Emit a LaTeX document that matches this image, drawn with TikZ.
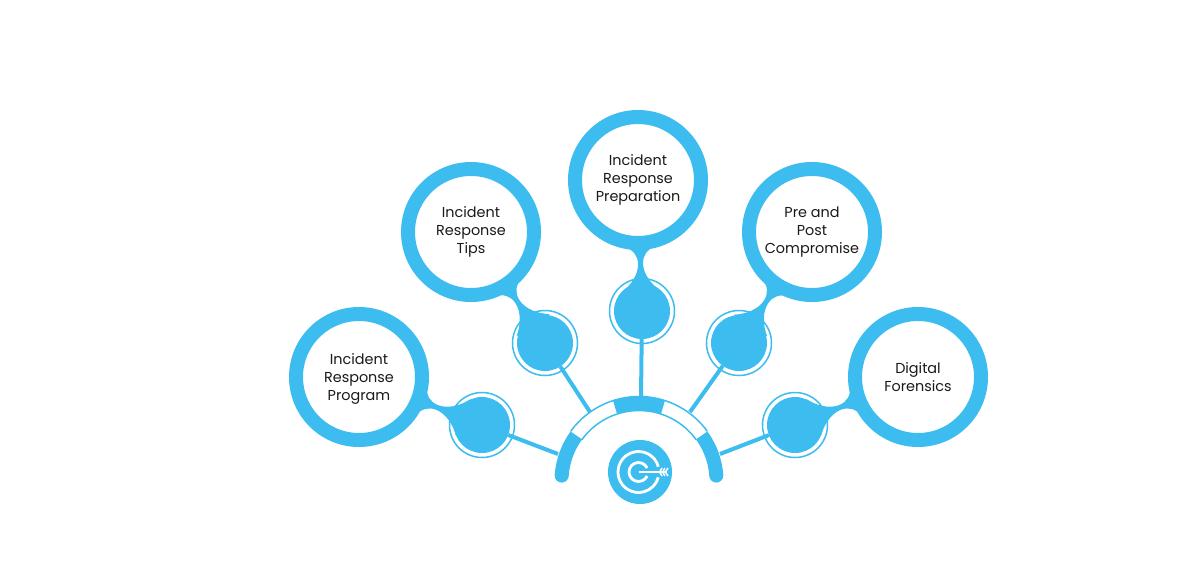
\documentclass[tikz,border=0pt]{standalone}
\usepackage{fontspec}
\setmainfont{Poppins}
\definecolor{sky}{HTML}{3DBDEF}
\definecolor{ink}{HTML}{1A1A1A}
\tikzset{
  bigring/.style={circle,draw=sky,fill=white,line width=14pt,minimum size=126pt,inner sep=0pt,outer sep=0pt,
    align=center,text=ink,font=\fontsize{14.4}{18}\selectfont},
  dotnode/.style={circle,fill=sky,minimum size=56pt,inner sep=0pt,outer sep=0pt},
  halo/.style={circle,draw=sky,fill=white,line width=1.5pt,minimum size=65pt,inner sep=0pt,outer sep=0pt},
  spoke/.style={draw=sky,line width=4pt},
  neckfill/.style={fill=sky},
  band/.style={draw=sky,line width=14pt},
  thinband/.style={draw=sky,line width=1.5pt},
  hub/.style={circle,fill=sky,minimum size=64pt,inner sep=0pt,outer sep=0pt},
  iconline/.style={draw=white,line width=2.8pt}
}
\newcommand{\neckshape}[2]{%
  \begin{scope}[shift={(#1)},rotate=#2]
    \fill[neckfill] (66,-16) .. controls (70,-7) and (75,-2.5) .. (84,-2.5)
      .. controls (94,-2.5) and (105,-10) .. (112,-20)
      -- (112,20)
      .. controls (105,10) and (94,2.5) .. (84,2.5)
      .. controls (75,2.5) and (70,7) .. (66,16) -- cycle;
  \end{scope}}
\begin{document}
\begin{tikzpicture}[x=1pt,y=-1pt]
\useasboundingbox (0,0) rectangle (1200,563);
\fill[white] (0,0) rectangle (1200,563);
% arc coordinates
\coordinate (hubc) at (639,481);
\coordinate (aL) at (558,454);
\coordinate (aUL) at (590,412);
\coordinate (aC) at (641,398);
\coordinate (aUR) at (690,412);
\coordinate (aR) at (720,454);
\coordinate (ic) at (638.5,472);
% thin edges of the band
\draw[thinband] (hubc) ++(-144:70.5) arc[start angle=-144,end angle=-36,radius=70.5];
\draw[thinband] (hubc) ++(-144:84.5) arc[start angle=-144,end angle=-36,radius=84.5];
% outer halo rings
\node[halo] (hL) at (482,425) {};
\node[halo] (hUL) at (545,343) {};
\node[halo] (hC) at (642,311) {};
\node[halo] (hUR) at (739,343) {};
\node[halo] (hR) at (795,425) {};
% necks
\neckshape{359,377}{-21.3}
\neckshape{471,232}{-56.3}
\neckshape{638,180}{-88.25}
\neckshape{812,232}{-123.3}
\neckshape{918,377}{-158.7}
% dots
\node[dotnode] (dL) at (482,425) {};
\node[dotnode] (dUL) at (545,343) {};
\node[dotnode] (dC) at (642,311) {};
\node[dotnode] (dUR) at (739,343) {};
\node[dotnode] (dR) at (795,425) {};
% big circles
\node[bigring] (bL) at (359,377) {\rule{0pt}{15.5pt}Incident\\Response\\Program};
\node[bigring] (bUL) at (471,232) {Incident\\Response\\Tips};
\node[bigring] (bC) at (638,180) {Incident\\Response\\Preparation};
\node[bigring] (bUR) at (812,232) {Pre and\\Post\\Compromise};
\node[bigring] (bR) at (918,377) {Digital\\Forensics};
% spokes
\draw[spoke] (dL) -- (aL);
\draw[spoke] (dUL) -- (aUL);
\draw[spoke] (dC) -- (aC);
\draw[spoke] (dUR) -- (aUR);
\draw[spoke] (dR) -- (aR);
% thick segments of the band
\draw[band] (hubc) ++(-176:77.5) arc[start angle=-176,end angle=-144,radius=77.5];
\draw[band] (hubc) ++(-4:77.5) arc[start angle=-4,end angle=-36,radius=77.5];
\draw[band] (hubc) ++(-108:77.5) arc[start angle=-108,end angle=-72,radius=77.5];
\fill[sky] (hubc) ++(-176:77.5) circle[radius=7];
\fill[sky] (hubc) ++(-4:77.5) circle[radius=7];
% hub
\node[hub] (hub) at (640,472) {};
\draw[iconline] (ic) ++(-15:20.5) arc[start angle=-15,end angle=-345,radius=20.5];
\draw[iconline] (ic) ++(-25:9.5) arc[start angle=-25,end angle=-335,radius=9.5];
\draw[white,line width=2.6pt] (ic) -- ++(26,0);
\draw[white,line width=1.5pt] (662,468) -- (659.5,472) -- (662,476);
\draw[white,line width=1.5pt] (665,468) -- (662.5,472) -- (665,476);
\draw[white,line width=1.5pt] (668,468) -- (665.5,472) -- (668,476);
\end{tikzpicture}
\end{document}
